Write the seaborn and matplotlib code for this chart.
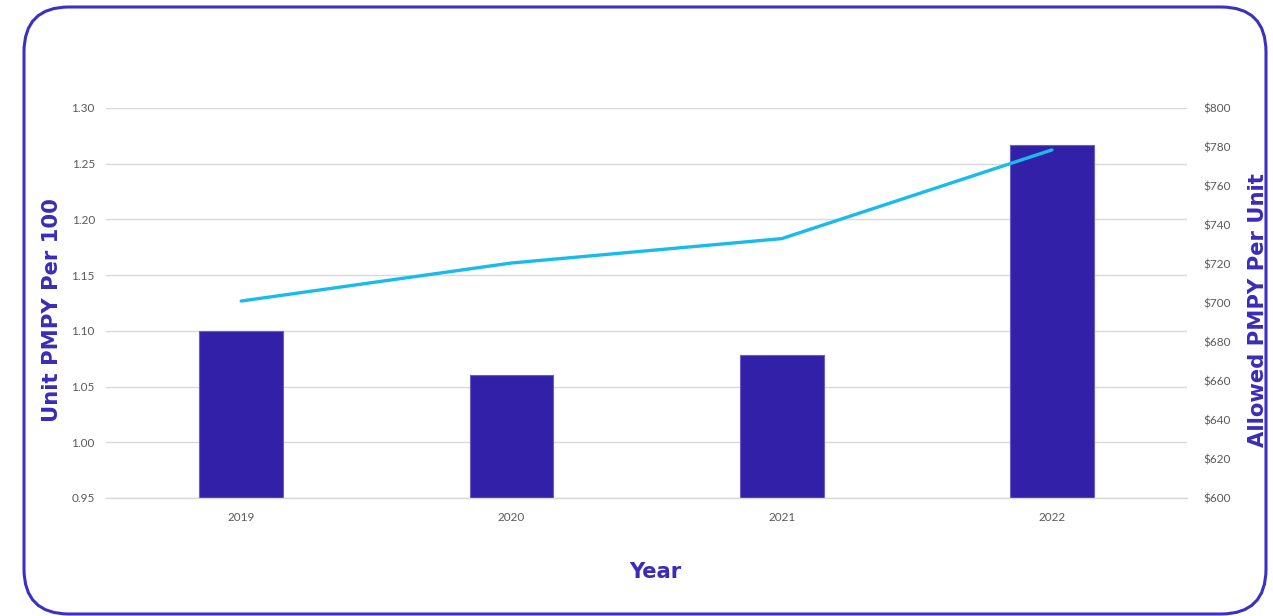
import numpy as np
import pandas as pd
import seaborn as sns
import matplotlib.pyplot as plt
from matplotlib.patches import FancyBboxPatch
from matplotlib.transforms import IdentityTransform
from matplotlib.ticker import FormatStrFormatter, FuncFormatter, MultipleLocator

# data
years = ["2019", "2020", "2021", "2022"]
unit_pmpy_per_100 = [1.10, 1.06, 1.078, 1.267]
allowed_pmpy_per_unit = [701, 720.5, 733, 778.5]

bar_color = "#3320a8"
line_color = "#19bce9"
label_color = "#3a2cb8"
tick_color = "#595959"
grid_color = "#d9d9d9"

sns.set_style("white")
plt.rcParams['font.family'] = ['Lato', 'DejaVu Sans']

df = pd.DataFrame({"year": years, "unit": unit_pmpy_per_100, "allowed": allowed_pmpy_per_unit})

fig = plt.figure(figsize=(12.73, 6.16), dpi=100)
ax = fig.add_axes([0.0833, 0.1916, 0.8492, 0.6331])

sns.barplot(data=df, x="year", y="unit", color=bar_color, width=0.31,
            saturation=1, edgecolor="#6a5cc8", linewidth=0.8, ax=ax, zorder=2)
ax.set_ylim(0.95, 1.30)
ax.yaxis.set_major_locator(MultipleLocator(0.05))
ax.yaxis.set_major_formatter(FormatStrFormatter("%.2f"))
ax.grid(axis="y", color=grid_color, linewidth=1, zorder=0)
ax.set_axisbelow(True)

ax2 = ax.twinx()
sns.lineplot(x=np.arange(len(years)), y=df["allowed"], color=line_color,
             linewidth=2.4, ax=ax2, zorder=3)
ax2.set_ylim(600, 800)
ax2.yaxis.set_major_locator(MultipleLocator(20))
ax2.yaxis.set_major_formatter(FuncFormatter(lambda v, p: f"${v:.0f}"))
ax.set_xlim(-0.5, 3.5)

for a in (ax, ax2):
    for s in a.spines.values():
        s.set_visible(False)
    a.tick_params(length=0, labelsize=8.5, labelcolor=tick_color)
# baseline gridline at 0.95
ax.spines["bottom"].set_visible(True)
ax.spines["bottom"].set_color(grid_color)
ax.spines["bottom"].set_linewidth(1)
ax.tick_params(axis="y", pad=8)
ax.tick_params(axis="x", pad=10)
ax2.tick_params(axis="y", pad=12)

lbl = dict(family=['DejaVu Sans'], fontsize=15.2, fontweight="bold", color=label_color)
ax.set_xlabel("Year", **lbl)
ax.xaxis.set_label_coords(0.508, -0.165)
ax.set_ylabel("Unit PMPY Per 100", va="center", **lbl)
ax.yaxis.set_label_coords(-0.05, 0.482)
ax2.set_ylabel("Allowed PMPY Per Unit", va="center", rotation=90, **lbl)
ax2.yaxis.set_label_coords(1.0657, 0.482)

# rounded frame around the whole card
frame = FancyBboxPatch((24, 2), 1242, 607, boxstyle="round,pad=0,rounding_size=45",
                       transform=IdentityTransform(), facecolor="none",
                       edgecolor="#3b30c4", linewidth=2.2)
fig.patches.append(frame)

fig.savefig("out.png", dpi=100, facecolor="white")
